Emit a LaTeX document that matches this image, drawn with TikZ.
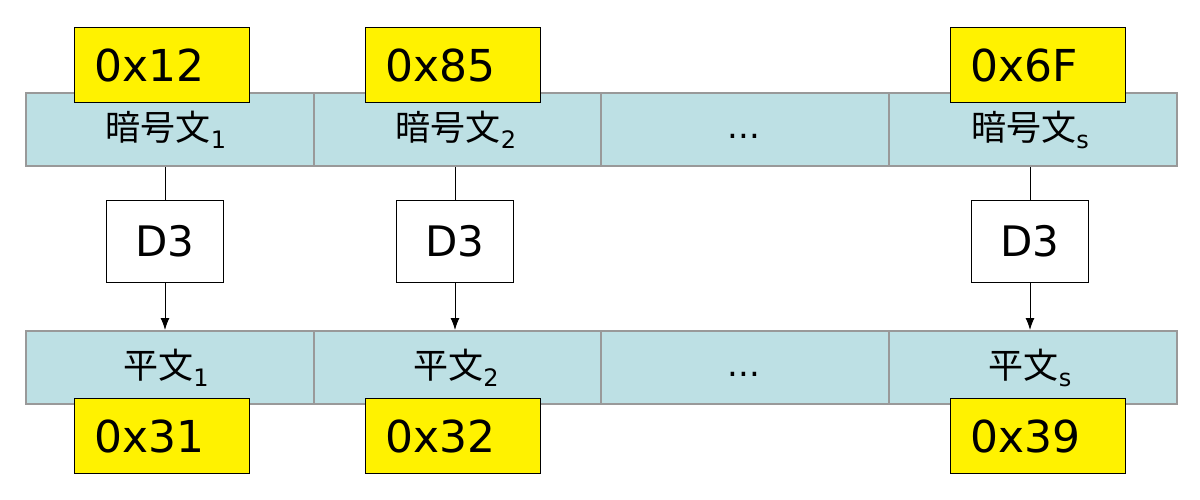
\documentclass[tikz,border=0pt]{standalone}
\usepackage{fontspec}
\usetikzlibrary{arrows.meta}
\setmainfont{DejaVu Sans}
\newfontfamily\cjk{Noto Sans CJK JP}
\begin{document}
\begin{tikzpicture}[x=1pt,y=-1pt,
 cell/.style={draw=gray!80,line width=1.5pt,fill={rgb,255:red,189;green,224;blue,228},anchor=north west,minimum width=288pt,minimum height=73pt,inner sep=0pt},
 ybox/.style={draw=black,line width=1pt,fill=yellow,anchor=north west,minimum width=175pt,minimum height=75pt,inner sep=0pt,text width=155pt,align=left,font=\fontsize{44}{48}\selectfont},
 dbox/.style={draw=black,line width=1pt,fill=white,anchor=north west,minimum width=117pt,minimum height=82pt,inner sep=0pt,font=\fontsize{42}{46}\selectfont},
 lab/.style={font=\cjk\fontsize{35}{38}\selectfont},
 arr/.style={-{Latex[length=12pt,width=9pt]},line width=1pt}]
\useasboundingbox (0,0) rectangle (1200,499);
\node[cell] (c1) at (25,92) {};
\node[cell] (c2) at (313,92) {};
\node[cell] (c3) at (600,92) {};
\node[cell] (c4) at (888,92) {};
\node[cell] (p1) at (25,330) {};
\node[cell] (p2) at (313,330) {};
\node[cell] (p3) at (600,330) {};
\node[cell] (p4) at (888,330) {};
\node[ybox] (y1) at (74,27) {\hspace*{10pt}0x12};
\node[ybox] (y2) at (365,27) {\hspace*{10pt}0x85};
\node[ybox] (y3) at (950,27) {\hspace*{10pt}0x6F};
\node[ybox] (b1) at (74,398) {\hspace*{10pt}0x31};
\node[ybox] (b2) at (365,398) {\hspace*{10pt}0x32};
\node[ybox] (b3) at (950,398) {\hspace*{10pt}0x39};
\node[lab] (t1) at (166,130) {暗号文\raisebox{-8pt}{\fontsize{24}{26}\selectfont\rmfamily 1}};
\node[lab] (t2) at (456,130) {暗号文\raisebox{-8pt}{\fontsize{24}{26}\selectfont\rmfamily 2}};
\node[lab] (t4) at (1030,130) {暗号文\raisebox{-8pt}{\fontsize{24}{26}\selectfont\rmfamily s}};
\node[font=\fontsize{34}{38}\selectfont] (t3) at (744,136) {...};
\node[lab] (q1) at (166,368) {平文\raisebox{-8pt}{\fontsize{24}{26}\selectfont\rmfamily 1}};
\node[lab] (q2) at (456,368) {平文\raisebox{-8pt}{\fontsize{24}{26}\selectfont\rmfamily 2}};
\node[lab] (q4) at (1030,368) {平文\raisebox{-8pt}{\fontsize{24}{26}\selectfont\rmfamily s}};
\node[font=\fontsize{34}{38}\selectfont] (q3) at (744,374) {...};
\node[dbox] (d1) at (106,200) {D3};
\node[dbox] (d2) at (396,200) {D3};
\node[dbox] (d3) at (971,200) {D3};
\foreach \d/\c/\p in {d1/c1/p1,d2/c2/p2,d3/c4/p4}{
 \draw[line width=1pt] (\d.north) -- (\d.north |- \c.south);
 \draw[arr] (\d.south) -- (\d.south |- \p.north);
}
\end{tikzpicture}
\end{document}
